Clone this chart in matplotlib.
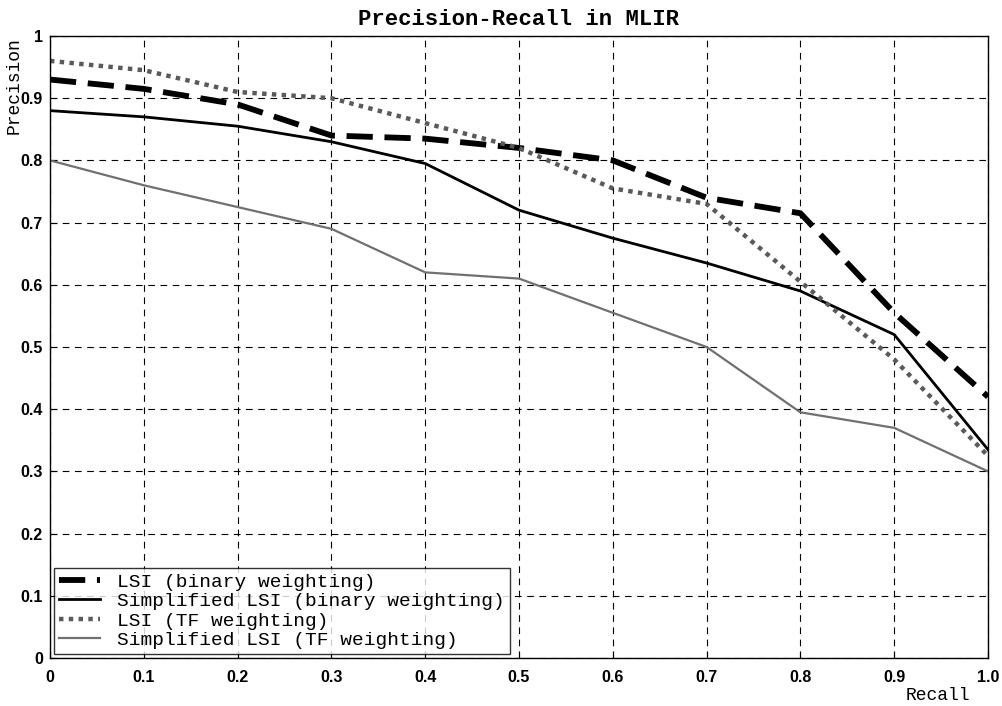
import matplotlib
matplotlib.use('Agg')
import matplotlib.pyplot as plt

# recall levels and precision for each method
recall = [0.0, 0.1, 0.2, 0.3, 0.4, 0.5, 0.6, 0.7, 0.8, 0.9, 1.0]
lsi_binary = [0.93, 0.915, 0.89, 0.84, 0.835, 0.82, 0.80, 0.74, 0.715, 0.555, 0.42]
simp_binary = [0.88, 0.87, 0.855, 0.83, 0.795, 0.72, 0.675, 0.635, 0.59, 0.52, 0.335]
lsi_tf = [0.96, 0.945, 0.91, 0.90, 0.86, 0.82, 0.755, 0.73, 0.605, 0.48, 0.325]
simp_tf = [0.80, 0.76, 0.725, 0.69, 0.62, 0.61, 0.555, 0.50, 0.395, 0.37, 0.30]

x_ticks = [0, 0.1, 0.2, 0.3, 0.4, 0.5, 0.6, 0.7, 0.8, 0.9, 1.0]
x_labels = ['0', '0.1', '0.2', '0.3', '0.4', '0.5', '0.6', '0.7', '0.8', '0.9', '1.0']
y_ticks = [0, 0.1, 0.2, 0.3, 0.4, 0.5, 0.6, 0.7, 0.8, 0.9, 1.0]
y_labels = ['0', '0.1', '0.2', '0.3', '0.4', '0.5', '0.6', '0.7', '0.8', '0.9', '1']

MONO = 'Liberation Mono'
SANS = 'Liberation Sans'

fig = plt.figure(figsize=(10.03, 7.06), dpi=100)
ax = fig.add_axes([50 / 1003, 1 - 658 / 706, 938 / 1003, 622 / 706])

ax.plot(recall, lsi_binary, color='black', lw=4.2, dashes=(4.5, 2),
        label='LSI (binary weighting)')
ax.plot(recall, simp_binary, color='black', lw=2,
        label='Simplified LSI (binary weighting)')
ax.plot(recall, lsi_tf, color='#5a5a5a', lw=3.2, dashes=(1, 1.2),
        label='LSI (TF weighting)')
ax.plot(recall, simp_tf, color='#707070', lw=1.6,
        label='Simplified LSI (TF weighting)')

ax.set_xlim(0, 1)
ax.set_ylim(0, 1)
ax.set_xticks(x_ticks)
ax.set_xticklabels(x_labels)
ax.set_yticks(y_ticks)
ax.set_yticklabels(y_labels)
ax.tick_params(direction='in', length=5, width=0.8, labelsize=11.5)
ax.tick_params(axis='x', pad=9)
ax.tick_params(axis='y', pad=5)
for lab in ax.get_xticklabels() + ax.get_yticklabels():
    lab.set_fontfamily(SANS)
    lab.set_fontweight('bold')
ax.grid(True, color='black', lw=0.8, linestyle=(0, (6, 5)))
for sp in ax.spines.values():
    sp.set_linewidth(1.0)

ax.set_title('Precision-Recall in MLIR', fontfamily=MONO, fontweight='bold',
             fontsize=16, pad=8)
fig.text(14 / 1003, 1 - 86 / 706, 'Precision', fontfamily=MONO, fontsize=13,
         rotation=90, ha='center', va='center')
fig.text(938 / 1003, 1 - 696 / 706, 'Recall', fontfamily=MONO, fontsize=13,
         ha='center', va='center')

leg = ax.legend(loc='lower left', prop={'family': MONO, 'size': 14},
                frameon=True, fancybox=False, borderaxespad=0.2,
                handlelength=2.1, labelspacing=0.1, borderpad=0.25,
                handletextpad=0.9)
leg.get_frame().set_edgecolor('black')
leg.get_frame().set_linewidth(1.0)

fig.savefig('out.png', dpi=100)
